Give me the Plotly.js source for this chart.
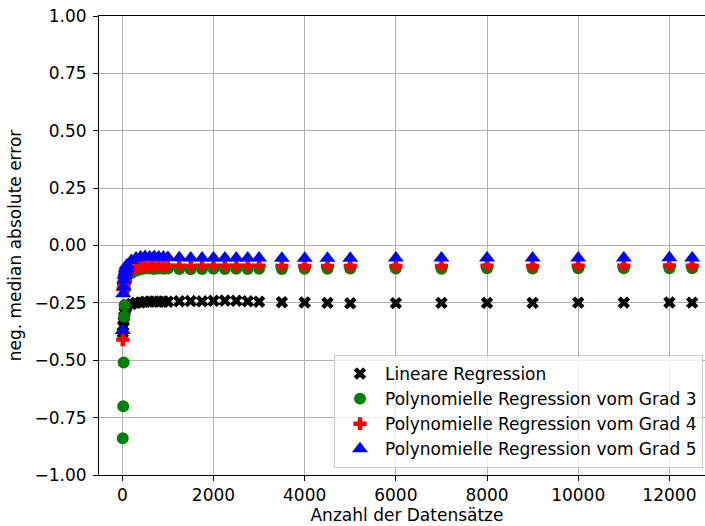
<!DOCTYPE html>
<html>
<head>
<meta charset="utf-8">
<script src="https://cdn.plot.ly/plotly-3.0.1.min.js"></script>
<style>
html, body { margin: 0; padding: 0; overflow: hidden; background: #fff; }
#chart { width: 715px; height: 526px; }
</style>
</head>
<body>
<div id="chart"></div>
<script>
// Anzahl der Datensätze
const datasetSizes = [10, 20, 30, 40, 50, 60, 70, 80, 90, 100,
  200, 300, 400, 500, 600, 700, 800, 900, 1000,
  1250, 1500, 1750, 2000, 2250, 2500, 2750, 3000,
  3500, 4000, 4500, 5000,
  6000, 7000, 8000, 9000, 10000, 11000, 12000, 12500];

const linearReg = [-0.38, -0.35, -0.33, -0.31, -0.29, -0.28, -0.27, -0.27, -0.26, -0.26,
  -0.255, -0.25, -0.248, -0.245, -0.245, -0.244, -0.245, -0.244, -0.245,
  -0.243, -0.242, -0.243, -0.241, -0.240, -0.241, -0.243, -0.245,
  -0.247, -0.248, -0.250, -0.252,
  -0.251, -0.250, -0.250, -0.250, -0.249, -0.249, -0.248, -0.249];

const polyGrad3 = [-0.84, -0.70, -0.51, -0.31, -0.26, -0.19, -0.16, -0.15, -0.14, -0.13,
  -0.12, -0.11, -0.105, -0.10, -0.10, -0.102, -0.10, -0.101, -0.10,
  -0.102, -0.103, -0.102, -0.101, -0.102, -0.101, -0.102, -0.101,
  -0.102, -0.101, -0.101, -0.100,
  -0.100, -0.101, -0.099, -0.100, -0.099, -0.099, -0.099, -0.099];

const polyGrad4 = [-0.41, -0.19, -0.17, -0.16, -0.15, -0.14, -0.13, -0.125, -0.12, -0.115,
  -0.10, -0.095, -0.09, -0.089, -0.088, -0.088, -0.088, -0.088, -0.088,
  -0.088, -0.089, -0.088, -0.088, -0.088, -0.088, -0.088, -0.088,
  -0.089, -0.089, -0.089, -0.089,
  -0.089, -0.089, -0.088, -0.089, -0.088, -0.088, -0.087, -0.088];

const polyGrad5 = [-0.37, -0.21, -0.18, -0.15, -0.13, -0.12, -0.11, -0.10, -0.09, -0.085,
  -0.065, -0.055, -0.05, -0.048, -0.05, -0.048, -0.05, -0.05, -0.052,
  -0.053, -0.055, -0.055, -0.054, -0.055, -0.055, -0.055, -0.055,
  -0.056, -0.056, -0.056, -0.056,
  -0.055, -0.055, -0.054, -0.055, -0.055, -0.054, -0.053, -0.054];

const seriesNames = ["Lineare Regression", "Polynomielle Regression vom Grad 3",
  "Polynomielle Regression vom Grad 4", "Polynomielle Regression vom Grad 5"];

const yTickVals = [-1.0, -0.75, -0.5, -0.25, 0.0, 0.25, 0.5, 0.75, 1.0];
const xTickVals = [0, 2000, 4000, 6000, 8000, 10000, 12000];

const font = "DejaVu Sans, sans-serif";
const fs = 17;

function trace(y, name, symbol, color, size) {
  return {
    x: datasetSizes, y: y, name: name, type: "scatter", mode: "markers",
    marker: { symbol: symbol, color: color, size: size, line: { width: 0 } }
  };
}

const data = [
  trace(linearReg, seriesNames[0], "x", "#000000", 11),
  trace(polyGrad3, seriesNames[1], "circle", "#008000", 12),
  trace(polyGrad4, seriesNames[2], "cross", "#ff0000", 11),
  trace(polyGrad5, seriesNames[3], "triangle-up", "#0000ff", 14)
];

const layout = {
  width: 715, height: 526,
  margin: { l: 99, r: 0, t: 16, b: 51, pad: 0 },
  paper_bgcolor: "#ffffff", plot_bgcolor: "#ffffff",
  font: { family: font, size: fs, color: "#000000" },
  showlegend: true,
  xaxis: {
    range: [-511, 13000],
    tickvals: xTickVals,
    ticktext: xTickVals.map(String),
    showgrid: true, gridcolor: "#b0b0b0", gridwidth: 1,
    zeroline: false,
    showline: true, linecolor: "#000000", linewidth: 1, mirror: true,
    ticks: "outside", ticklen: 5, tickcolor: "#000000", tickwidth: 1,
    tickfont: { family: font, size: fs },
    title: { text: "Anzahl der Datensätze", font: { family: font, size: fs }, standoff: 4 },
    automargin: false
  },
  yaxis: {
    range: [-1, 1],
    tickvals: yTickVals,
    tickformat: ".2f",
    showgrid: true, gridcolor: "#b0b0b0", gridwidth: 1,
    zeroline: false,
    showline: true, linecolor: "#000000", linewidth: 1, mirror: true,
    ticks: "outside", ticklen: 5, tickcolor: "#000000", tickwidth: 1,
    ticklabelstandoff: 3,
    tickfont: { family: font, size: fs },
    title: { text: "neg. median absolute error", font: { family: font, size: fs }, standoff: 8 },
    automargin: false
  },
  legend: {
    x: 0.9805, y: 0.0153, xanchor: "right", yanchor: "bottom",
    bgcolor: "rgba(255,255,255,0.8)", bordercolor: "#cccccc", borderwidth: 1,
    font: { family: font, size: fs },
    itemwidth: 40
  }
};

Plotly.newPlot("chart", data, layout, { displayModeBar: false, staticPlot: true });
</script>
</body>
</html>
